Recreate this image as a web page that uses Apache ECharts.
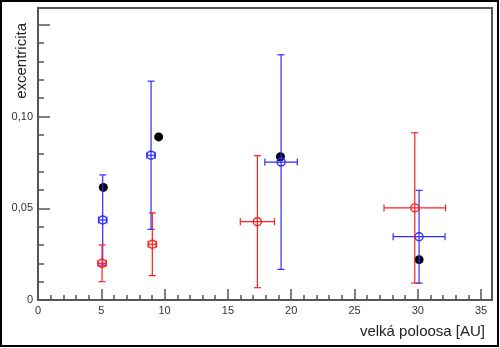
<!DOCTYPE html>
<html>
<head>
<meta charset="utf-8">
<script src="https://cdn.jsdelivr.net/npm/echarts@6/dist/echarts.min.js"></script>
<style>
html,body{margin:0;padding:0;background:#fff;}
#c{width:500px;height:348px;}
</style>
</head>
<body>
<div id="c"></div>
<script>
// Data: [semi-major axis (AU), eccentricity]
const blackPoints = [[5.16, 0.0614], [9.53, 0.0889], [19.15, 0.0781], [30.1, 0.022]];
// [x, y, xerr, yerr]
const bluePoints = [[5.11, 0.0436, 0.33, 0.0246], [8.93, 0.0789, 0.33, 0.0404], [19.2, 0.0752, 1.28, 0.0585], [30.1, 0.0345, 2.05, 0.0253]];
const redPoints = [[5.06, 0.020, 0.33, 0.010], [9.03, 0.0304, 0.33, 0.0171], [17.33, 0.0427, 1.35, 0.036], [29.76, 0.0502, 2.43, 0.041]];
const xTickValues = [0, 5, 10, 15, 20, 25, 30, 35];
const xTickLabels = ['0', '5', '10', '15', '20', '25', '30', '35'];
const yTickValues = [0, 0.05, 0.10];
const yTickLabels = ['0', '0,05', '0,10'];

const BLUE = 'rgb(45,45,255)';
const RED = 'rgb(255,30,30)';

function errRender(color) {
  return function (params, api) {
    const x = api.value(0), y = api.value(1), xe = api.value(2), ye = api.value(3);
    const top = api.coord([x, y + ye]);
    const bot = api.coord([x, y - ye]);
    const lft = api.coord([x - xe, y]);
    const rgt = api.coord([x + xe, y]);
    const cap = 3.5;
    const st = {stroke: color, lineWidth: 1.2};
    const lines = [
      [top[0], top[1], bot[0], bot[1]],
      [top[0] - cap, top[1], top[0] + cap, top[1]],
      [bot[0] - cap, bot[1], bot[0] + cap, bot[1]],
      [lft[0], lft[1], rgt[0], rgt[1]],
      [lft[0], lft[1] - cap, lft[0], lft[1] + cap],
      [rgt[0], rgt[1] - cap, rgt[0], rgt[1] + cap]
    ];
    return {
      type: 'group',
      children: lines.map(l => ({type: 'line', shape: {x1: l[0], y1: l[1], x2: l[2], y2: l[3]}, style: st}))
    };
  };
}

const chart = echarts.init(document.getElementById('c'), null, {renderer: 'canvas'});
const labelColor = '#333';
chart.setOption({
  animation: false,
  backgroundColor: '#fff',
  textStyle: {fontFamily: 'Liberation Sans, Arial, sans-serif'},
  graphic: [
    {type: 'rect', shape: {x: 1, y: 1, width: 497, height: 345}, style: {fill: 'none', stroke: '#000', lineWidth: 2}, z: 100}
  ],
  grid: {left: 38, right: 8, top: 8, bottom: 48, show: true, borderColor: '#555', borderWidth: 2, backgroundColor: 'transparent'},
  xAxis: {
    type: 'value', min: 0, max: 35.86, interval: 5,
    name: 'velká poloosa [AU]', nameLocation: 'end',
    nameGap: 0,
    nameTextStyle: {fontSize: 15, color: '#222', align: 'right', verticalAlign: 'top', padding: [24, 7, 0, 0]},
    axisLine: {show: true, onZero: false, lineStyle: {color: '#555', width: 2}},
    axisTick: {show: true, inside: true, length: 11, lineStyle: {color: '#555', width: 1.5}},
    minorTick: {show: true, splitNumber: 5, length: 5, lineStyle: {color: '#555', width: 1.5}},
    splitLine: {show: false},
    axisLabel: {
      fontSize: 11, color: labelColor, margin: 5, showMaxLabel: true,
      formatter: function (v) { const i = xTickValues.findIndex(t => Math.abs(t - v) < 1e-6); return i >= 0 ? xTickLabels[i] : ''; }
    }
  },
  yAxis: {
    type: 'value', min: 0, max: 0.1592, interval: 0.05,
    name: 'excentricita', nameLocation: 'end', nameRotate: 90,
    nameGap: 0,
    nameTextStyle: {fontSize: 15, color: '#222', align: 'right', verticalAlign: 'bottom', padding: [0, 15, 9, 0]},
    axisLine: {show: true, onZero: false, lineStyle: {color: '#555', width: 2}},
    axisTick: {show: true, inside: true, length: 12, lineStyle: {color: '#555', width: 1.5}},
    minorTick: {show: true, splitNumber: 5, length: 6, lineStyle: {color: '#555', width: 1.5}},
    splitLine: {show: false},
    axisLabel: {
      fontSize: 11, color: labelColor, margin: 5,
      formatter: function (v) { const i = yTickValues.findIndex(t => Math.abs(t - v) < 1e-9); return i >= 0 ? yTickLabels[i] : ''; }
    }
  },
  series: [
    {type: 'scatter', data: blackPoints, symbol: 'circle', symbolSize: 9, itemStyle: {color: '#000', opacity: 1}, z: 2},
    {type: 'custom', data: bluePoints, encode: {x: 0, y: 1}, renderItem: errRender(BLUE), z: 3},
    {type: 'scatter', data: bluePoints.map(p => [p[0], p[1]]), symbol: 'circle', symbolSize: 8, itemStyle: {color: 'rgba(0,0,0,0)', borderColor: BLUE, borderWidth: 1.4, opacity: 1}, z: 4},
    {type: 'custom', data: redPoints, encode: {x: 0, y: 1}, renderItem: errRender(RED), z: 5},
    {type: 'scatter', data: redPoints.map(p => [p[0], p[1]]), symbol: 'circle', symbolSize: 8, itemStyle: {color: 'rgba(0,0,0,0)', borderColor: RED, borderWidth: 1.4, opacity: 1}, z: 6}
  ]
});
</script>
</body>
</html>
